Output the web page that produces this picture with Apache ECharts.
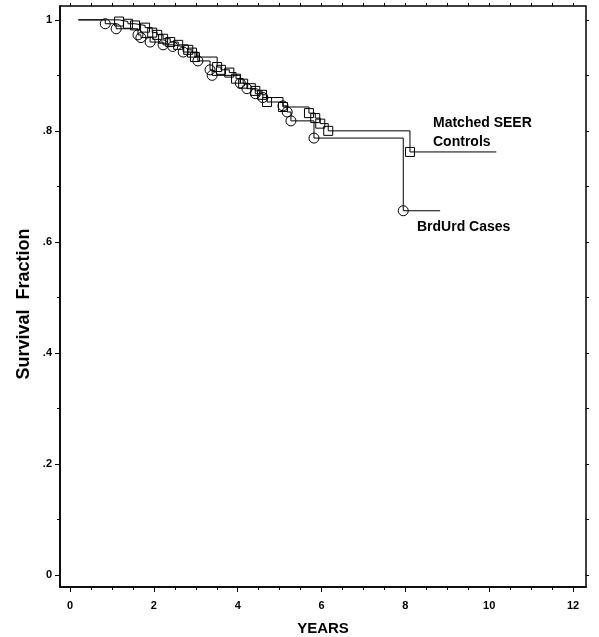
<!DOCTYPE html>
<html>
<head>
<meta charset="utf-8">
<script src="https://cdn.jsdelivr.net/npm/echarts@6/dist/echarts.min.js"></script>
<style>
  html, body { margin: 0; padding: 0; background: #fff; }
  #chart { width: 599px; height: 637px; }
</style>
</head>
<body>
<div id="chart"></div>
<script>
// Kaplan-Meier estimates (years, survival fraction)
var controlsYears = [0.2, 1.17, 1.38, 1.55, 1.79, 1.96, 2.08, 2.22, 2.39, 2.58, 2.82, 2.91, 2.98, 3.51, 3.6, 3.8, 3.96, 4.13, 4.42, 4.58, 4.7, 5.08, 5.7, 5.85, 5.97, 6.16, 8.11, 10.17];
var controlsSurv  = [1, 0.997, 0.993, 0.99, 0.986, 0.977, 0.973, 0.966, 0.96, 0.955, 0.946, 0.941, 0.933, 0.915, 0.91, 0.905, 0.894, 0.885, 0.872, 0.865, 0.852, 0.843, 0.832, 0.823, 0.813, 0.8, 0.762, 0.762];

var casesYears = [0.2, 0.84, 1.1, 1.62, 1.69, 1.91, 2.22, 2.45, 2.7, 3.05, 3.34, 3.39, 4.06, 4.22, 4.42, 4.6, 5.08, 5.18, 5.27, 5.82, 7.95, 8.83];
var casesSurv  = [1, 0.993, 0.984, 0.973, 0.968, 0.96, 0.955, 0.952, 0.942, 0.926, 0.91, 0.9, 0.886, 0.876, 0.867, 0.86, 0.845, 0.834, 0.818, 0.787, 0.656, 0.656];

var xMajorTicks = [0, 2, 4, 6, 8, 10, 12];
var xMinorTicks = [0.5, 1, 1.5, 2.5, 3, 3.5, 4.5, 5, 5.5, 6.5, 7, 7.5, 8.5, 9, 9.5, 10.5, 11, 11.5];
var xTopTicks = [0, 0.5, 1, 1.5, 2, 2.5, 3, 3.5, 4, 4.5, 5, 5.5, 6, 6.5, 7, 7.5, 8, 8.5, 9, 9.5, 10, 10.5, 11, 11.5, 12];
var yMajorTicks = [0, 0.2, 0.4, 0.6, 0.8, 1];
var yMinorTicks = [0.1, 0.3, 0.5, 0.7, 0.9];
var yRightTicks = [0, 0.1, 0.2, 0.3, 0.4, 0.5, 0.6, 0.7, 0.8, 0.9, 1];

// first point is the start of the curve, last point only carries the line on
function km(xs, ys) {
    return xs.map(function (x, i) {
        var item = { value: [x, ys[i]] };
        if (i === 0 || i === xs.length - 1) item.symbol = 'none';
        return item;
    });
}

function yLabel(v) {
    if (v === 0) return '0';
    if (v === 1) return '1';
    return String(Math.round(v * 10) / 10).replace('0.', '.');
}

var chart = echarts.init(document.getElementById('chart'), null, { renderer: 'canvas' });

var tickFont = { fontFamily: 'Liberation Sans', fontWeight: 'bold', fontSize: 11, color: '#000' };
var blackLine = { show: true, onZero: false, lineStyle: { color: '#000', width: 1.5 } };

function tickAxis(pos, values, extra) {
    return Object.assign({
        type: 'value', position: pos,
        axisLine: { show: false, onZero: false },
        axisTick: { show: true, customValues: values, length: 3, lineStyle: { color: '#000', width: 1 } },
        axisLabel: { show: false },
        splitLine: { show: false }
    }, extra);
}

var xRange = { min: -0.24, max: 12.31 };
var yRange = { min: -0.022, max: 1.025 };

var option = {
    animation: false,
    backgroundColor: '#fff',
    grid: {
        left: 60, right: 13, top: 6, bottom: 50,
        outerBoundsMode: 'none',
        show: true, borderColor: '#000', borderWidth: 1.5, backgroundColor: 'transparent'
    },
    xAxis: [{
        type: 'value', position: 'bottom', min: xRange.min, max: xRange.max,
        axisLine: blackLine,
        axisTick: { show: true, customValues: xMajorTicks, length: 5, lineStyle: { color: '#000', width: 1 } },
        axisLabel: Object.assign({ customValues: xMajorTicks, margin: 13 }, tickFont),
        splitLine: { show: false },
        name: 'YEARS', nameLocation: 'middle', nameGap: 34, nameMoveOverlap: false,
        nameTextStyle: { fontFamily: 'Liberation Sans', fontWeight: 'bold', fontSize: 15, color: '#000' }
    },
        tickAxis('bottom', xMinorTicks, xRange),
        tickAxis('top', xTopTicks, xRange)
    ],
    yAxis: [{
        type: 'value', position: 'left', min: yRange.min, max: yRange.max,
        axisLine: blackLine,
        axisTick: { show: true, customValues: yMajorTicks, length: 5, lineStyle: { color: '#000', width: 1 } },
        axisLabel: Object.assign({ customValues: yMajorTicks, margin: 8, formatter: yLabel }, tickFont),
        splitLine: { show: false }
    },
        tickAxis('left', yMinorTicks, yRange),
        tickAxis('right', yRightTicks, yRange)
    ],
    series: [{
        name: 'Matched SEER Controls',
        type: 'line', step: 'end',
        xAxisIndex: 0, yAxisIndex: 0,
        data: km(controlsYears, controlsSurv),
        symbol: 'rect', symbolSize: 9,
        lineStyle: { color: '#000', width: 1 },
        itemStyle: { color: 'transparent', borderColor: '#000', borderWidth: 1 }
    }, {
        name: 'BrdUrd Cases',
        type: 'line', step: 'end',
        xAxisIndex: 0, yAxisIndex: 0,
        data: km(casesYears, casesSurv),
        symbol: 'circle', symbolSize: 10,
        lineStyle: { color: '#000', width: 1 },
        itemStyle: { color: 'transparent', borderColor: '#000', borderWidth: 1 }
    }],
    graphic: [{
        type: 'text', x: 24, y: 304, rotation: Math.PI / 2,
        style: {
            text: 'Survival  Fraction', align: 'center', verticalAlign: 'middle',
            font: 'bold 18px "Liberation Sans"', fill: '#000'
        }
    }, {
        type: 'text', left: 433, top: 114,
        style: {
            text: 'Matched SEER\nControls', lineHeight: 19,
            font: 'bold 14px "Liberation Sans"', fill: '#000'
        }
    }, {
        type: 'text', left: 417, top: 220,
        style: { text: 'BrdUrd Cases', font: 'bold 14px "Liberation Sans"', fill: '#000' }
    }]
};

chart.setOption(option);
window.addEventListener('resize', chart.resize);
</script>
</body>
</html>
